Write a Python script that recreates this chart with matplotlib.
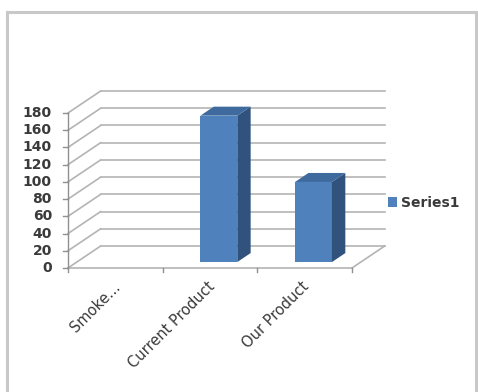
import numpy as np
import matplotlib
matplotlib.use("Agg")
import matplotlib.pyplot as plt
from matplotlib.patches import Polygon, Patch
from matplotlib.lines import Line2D

# chart data
categories = ["Smoke...", "Current Product", "Our Product"]
values = [0, 170, 93]
series_name = "Series1"
y_ticks = list(range(0, 181, 20))

# pseudo-3d look (in data units)
ddx, ddy = 0.345, 25.5      # depth offset of the back wall
f_front, f_back = 0.27, 0.68  # bar depth position, fraction of the depth
half_w = 0.195

c_front = "#4F81BD"
c_top = "#3E6A9E"
c_side = "#30527C"
grid_c = "#b4b4b4"
text_c = "#3a3a3a"

fig = plt.figure(figsize=(4.78, 3.92), dpi=100)
ax = fig.add_axes([0, 0, 1, 1])
ax.set_xlim(-1.218, 3.831)
ax.set_ylim(-144.0, 311.2)
ax.axis("off")

n = len(categories)
x0, x1 = -0.5, n - 0.5

# back wall gridlines + left wall diagonals
for v in y_ticks:
  ax.plot([x0 + ddx, x1 + ddx], [v + ddy, v + ddy], color=grid_c, lw=1.2, zorder=1)
  ax.plot([x0, x0 + ddx], [v, v + ddy], color=grid_c, lw=1.2, zorder=1)
  ax.plot([x0 - 0.05, x0], [v, v], color="#909090", lw=1.0, zorder=2)
  ax.text(x0 - 0.17, v, str(v), ha="right", va="center", fontsize=10,
          fontweight="bold", color=text_c)

# floor edges and axis
ax.plot([x0, x1], [0, 0], color=grid_c, lw=1.2, zorder=1)
ax.plot([x1, x1 + ddx], [0, ddy], color=grid_c, lw=1.2, zorder=1)
ax.plot([x0, x0], [0, y_ticks[-1]], color="#909090", lw=1.0, zorder=2)
for k in range(n + 1):
  xt = x0 + k
  ax.plot([xt, xt], [0, -5], color="#909090", lw=1.0, zorder=2)

# bars
for i, v in enumerate(values):
  if v <= 0:
    continue
  xl = i - half_w
  xr = i + half_w
  ax1, ay1 = f_front * ddx, f_front * ddy
  ax2, ay2 = f_back * ddx, f_back * ddy
  front = Polygon([(xl + ax1, ay1), (xr + ax1, ay1), (xr + ax1, v + ay1), (xl + ax1, v + ay1)],
                  closed=True, facecolor=c_front, edgecolor="none", zorder=3)
  side = Polygon([(xr + ax1, ay1), (xr + ax2, ay2), (xr + ax2, v + ay2), (xr + ax1, v + ay1)],
                 closed=True, facecolor=c_side, edgecolor="none", zorder=3)
  top = Polygon([(xl + ax1, v + ay1), (xr + ax1, v + ay1), (xr + ax2, v + ay2), (xl + ax2, v + ay2)],
                closed=True, facecolor=c_top, edgecolor="none", zorder=3)
  for p in (front, side, top):
    ax.add_patch(p)

# category labels
for i, lab in enumerate(categories):
  ax.text(i + 0.08, -13, lab, rotation=45, ha="right", va="top",
          fontsize=10.5, color=text_c)

# legend
fig.legend(handles=[Patch(facecolor=c_front)], labels=[series_name],
           loc="center left", bbox_to_anchor=(388 / 478, 1 - 203 / 392),
           frameon=False, borderpad=0, borderaxespad=0,
           handlelength=0.65, handleheight=0.65, handletextpad=0.25,
           prop={"size": 10, "weight": "bold"}, labelcolor=text_c)

# outer frame of the picture
fr = "#c8c8c8"
fig.add_artist(Line2D([6.5 / 478, 6.5 / 478], [0, 1 - 11.5 / 392], color=fr, lw=2.2,
                      transform=fig.transFigure))
fig.add_artist(Line2D([6.5 / 478, 476 / 478], [1 - 11.5 / 392, 1 - 11.5 / 392], color=fr, lw=2.2,
                      transform=fig.transFigure))
fig.add_artist(Line2D([476 / 478, 476 / 478], [0, 1 - 11.5 / 392], color=fr, lw=2.2,
                      transform=fig.transFigure))

fig.savefig("out.png", dpi=100)
